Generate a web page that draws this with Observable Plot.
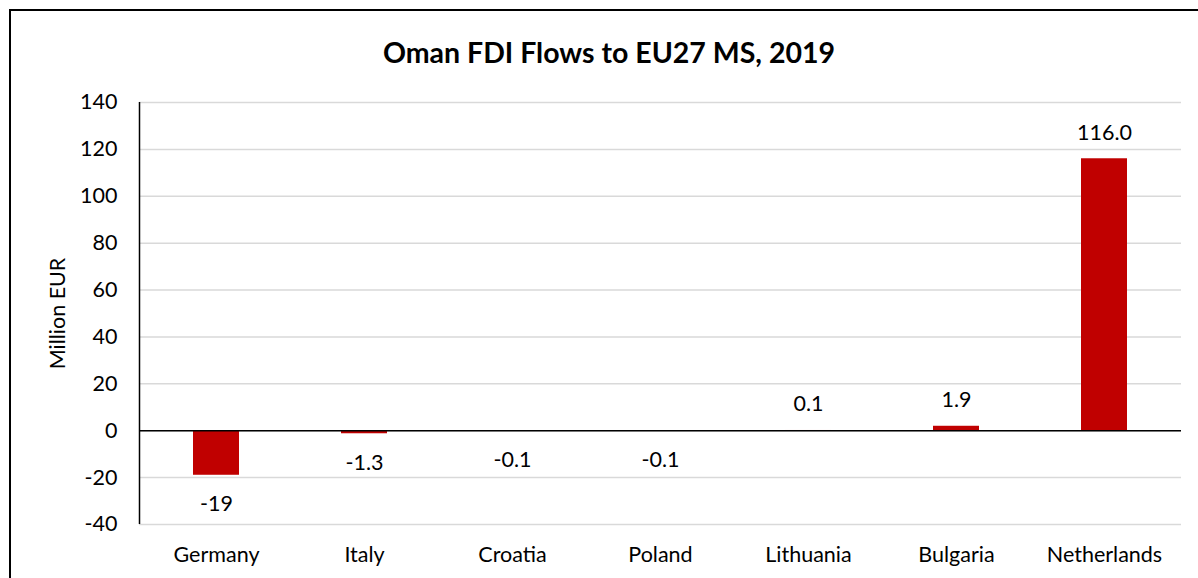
<!DOCTYPE html>
<html>
<head>
<meta charset="utf-8">
<script src="https://cdn.jsdelivr.net/npm/d3@7"></script>
<script src="https://cdn.jsdelivr.net/npm/@observablehq/plot@0.6"></script>
<style>
  html, body { margin: 0; padding: 0; background: #fff; }
  #wrap { position: relative; width: 1198px; height: 578px; overflow: hidden; background: #fff; font-family: Lato, "Open Sans", sans-serif; }
  #frame { position: absolute; left: 9px; top: 9px; width: 1250px; height: 650px; border: 2px solid #000; box-sizing: border-box; }
  #title { position: absolute; left: 0; width: 1218px; top: 35px; text-align: center; font-size: 28.5px; font-weight: bold; color: #000; line-height: 34px; }
  #chart { position: absolute; left: 0; top: 0; }
</style>
</head>
<body>
<div id="wrap">
  <div id="frame"></div>
  <div id="chart"></div>
  <div id="title">Oman FDI Flows to EU27 MS, 2019</div>
</div>
<script>
const countries = ["Germany", "Italy", "Croatia", "Poland", "Lithuania", "Bulgaria", "Netherlands"];
const values = [-19, -1.3, -0.1, -0.1, 0.1, 1.9, 116.0];
const valueLabels = ["-19", "-1.3", "-0.1", "-0.1", "0.1", "1.9", "116.0"];
const yTicks = [-40, -20, 0, 20, 40, 60, 80, 100, 120, 140];

const data = countries.map((c, i) => ({country: c, value: values[i], label: valueLabels[i]}));

const FS = 21.5;
const chart = Plot.plot({
  width: 1198,
  height: 578,
  marginLeft: 139,
  marginRight: 17,
  marginTop: 102,
  marginBottom: 54,
  style: {fontFamily: "Lato, 'Open Sans', sans-serif", fontSize: FS + "px", color: "#000", background: "transparent"},
  x: {domain: countries, paddingInner: 0.69, paddingOuter: 0.345, label: null},
  y: {domain: [-40, 140], ticks: yTicks, label: null},
  marks: [
    Plot.gridY(yTicks, {stroke: "#d9d9d9", strokeOpacity: 1, strokeWidth: 1.5}),
    Plot.axisY({ticks: yTicks, tickSize: 0, tickPadding: 22, fontSize: FS, label: null, tickFormat: d => String(d)}),
    Plot.axisX({tickSize: 0, tickPadding: 22, fontSize: FS, label: null}),
    Plot.text(["Million EUR"], {frameAnchor: "left", dx: -81, rotate: -90, fontSize: FS, textAnchor: "middle"}),
    Plot.barY(data, {x: "country", y: "value", fill: "#C00000"}),
    Plot.ruleY([0], {stroke: "#000", strokeWidth: 1.5}),
    Plot.text(data.filter(d => d.value < 0), {x: "country", y: "value", text: "label", dy: 29, fontSize: FS}),
    Plot.text(data.filter(d => d.value >= 0), {x: "country", y: "value", text: "label", dy: -26, fontSize: FS})
  ]
});

// vertical axis line at left edge of plot area
const svg = d3.select(chart);
svg.append("line")
  .attr("x1", 139.5).attr("x2", 139.5)
  .attr("y1", 102).attr("y2", 524)
  .attr("stroke", "#000").attr("stroke-width", 1.5);

document.getElementById("chart").appendChild(chart);
</script>
</body>
</html>
